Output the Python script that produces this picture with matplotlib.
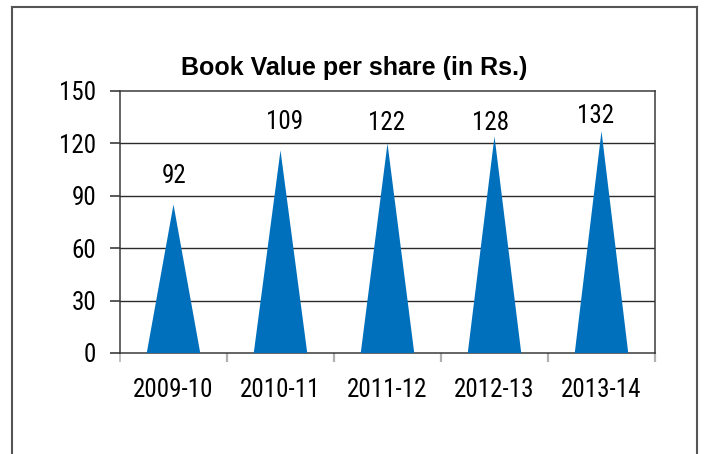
import matplotlib
matplotlib.use("Agg")
import matplotlib.pyplot as plt
from matplotlib import font_manager
from matplotlib.lines import Line2D
import numpy as np

# data
years = ["2009-10", "2010-11", "2011-12", "2012-13", "2013-14"]
book_value = [92, 109, 122, 128, 132]          # printed labels
cone_height = [85, 116, 120, 124, 127]         # drawn peak of each cone
y_ticks = [0, 30, 60, 90, 120, 150]

# label nudges (pixels), as placed in the original
label_offsets = [(1, 22), (4, 21), (-1, 13), (-4, 6), (-6, 8)]


def pick_narrow():
    fonts = font_manager.fontManager.ttflist
    names = {f.name for f in fonts}
    for n in ["Liberation Sans Narrow", "Arial Narrow", "Roboto Condensed", "Open Sans Condensed"]:
        if n in names:
            return n, "normal"
    for fam in ["Roboto", "Open Sans", "Noto Sans", "DejaVu Sans", "Liberation Sans"]:
        for f in fonts:
            if f.name == fam and f.style == "normal" and str(f.stretch) in ("condensed", "semi-condensed", "500", "600"):
                return fam, f.stretch
    return None, None


narrow, stretch = pick_narrow()
if narrow is None:
    narrow, stretch, num_size = "Liberation Sans", "normal", 15.5
else:
    num_size = 18

plt.rcParams["font.family"] = ["Liberation Sans", "DejaVu Sans"]
num_font = dict(fontsize=num_size, family=narrow, fontstretch=stretch)

fig = plt.figure(figsize=(7.06, 4.54), dpi=100)
ax = fig.add_axes([120 / 706, 1 - 353 / 454, (655 - 120) / 706, (353 - 91) / 454])

blue = "#0070BD"
x = np.arange(len(years)) + 0.5
half = 0.25
for xc, h in zip(x, cone_height):
    ax.fill([xc - half, xc, xc + half], [0, h, 0], color=blue, lw=0, zorder=3)

for i, (xc, h, v) in enumerate(zip(x, cone_height, book_value)):
    dx, dy = label_offsets[i]
    ax.annotate(str(v), (xc, h), xytext=(dx, dy), textcoords="offset pixels",
                ha="center", va="baseline", color="black", **num_font)

ax.set_xlim(0, len(years))
ax.set_ylim(0, 150)

# gridlines
for t in y_ticks[1:-1]:
    ax.axhline(t, color="#2b2b2b", lw=1.0, zorder=1)

for s in ["top", "right", "bottom", "left"]:
    ax.spines[s].set_color("#3a3a3a")
    ax.spines[s].set_linewidth(1.1)

ax.set_yticks(y_ticks)
ax.set_yticklabels([str(t) for t in y_ticks], **num_font)
ax.tick_params(axis="y", length=7, width=1.1, color="#2b2b2b", pad=10)

ax.set_xticks(np.arange(len(years) + 1))
ax.set_xticklabels([""] * (len(years) + 1))
ax.tick_params(axis="x", which="major", length=6.5, width=1.6, color="#b0b0b0")
ax.xaxis.get_major_ticks()[0].tick1line.set_color("#2b2b2b")
ax.xaxis.get_major_ticks()[0].tick1line.set_markeredgewidth(1.1)
ax.set_xticks(x, minor=True)
ax.set_xticklabels(years, minor=True, **num_font)
ax.tick_params(axis="x", which="minor", length=0, pad=18)

fig.text(354 / 706, 1 - 75 / 454, "Book Value per share (in Rs.)", ha="center", va="baseline",
         fontsize=18, fontweight="bold")

# outer frame of the original image
fc = "#555555"
fig.add_artist(Line2D([11.5 / 706, 11.5 / 706], [0, 1 - 6.5 / 454], color=fc, lw=1.5))
fig.add_artist(Line2D([11.5 / 706, 697 / 706], [1 - 6.5 / 454, 1 - 6.5 / 454], color=fc, lw=1.5))
fig.add_artist(Line2D([697 / 706, 697 / 706], [0, 1 - 6.5 / 454], color=fc, lw=1.5))

fig.savefig("out.png", dpi=100)
